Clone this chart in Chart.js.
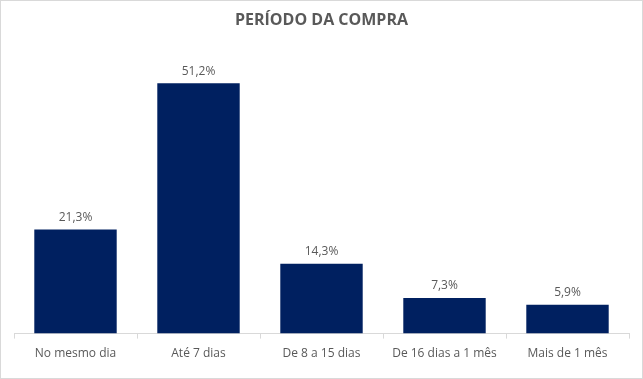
<!DOCTYPE html>
<html><head><meta charset="utf-8">
<script src="https://cdn.jsdelivr.net/npm/chart.js@4/dist/chart.umd.min.js"></script>
<style>
html,body{margin:0;padding:0;background:#fff;}
#wrap{position:relative;width:643px;height:379px;box-sizing:border-box;border:1px solid #d9d9d9;}
canvas{display:block;}
</style></head><body>
<div id="wrap"><canvas id="c" width="641" height="377"></canvas></div>
<script>
const categories = ["No mesmo dia", "Até 7 dias", "De 8 a 15 dias", "De 16 dias a 1 mês", "Mais de 1 mês"];
const values = [21.3, 51.2, 14.3, 7.3, 5.9];
const valueLabels = ["21,3%", "51,2%", "14,3%", "7,3%", "5,9%"];
const titleText = "PERÍODO DA COMPRA";

const labelPlugin = {
  id: 'barLabels',
  afterDatasetsDraw(chart) {
    const ctx = chart.ctx;
    const meta = chart.getDatasetMeta(0);
    ctx.save();
    ctx.font = '12px "Open Sans"';
    ctx.fillStyle = '#595959';
    ctx.textAlign = 'center';
    ctx.textBaseline = 'bottom';
    meta.data.forEach((bar, i) => {
      ctx.fillText(valueLabels[i], bar.x, bar.y - 6);
    });
    ctx.restore();
  }
};

new Chart(document.getElementById('c'), {
  type: 'bar',
  data: {
    labels: categories,
    datasets: [{
      data: values,
      backgroundColor: '#002060',
      categoryPercentage: 0.67,
      barPercentage: 1.0
    }]
  },
  options: {
    responsive: false,
    animation: false,
    layout: { padding: { left: 13, right: 13, top: 0, bottom: 9 } },
    plugins: {
      legend: { display: false },
      tooltip: { enabled: false },
      title: {
        display: true,
        text: titleText,
        color: '#595959',
        font: { family: 'Open Sans', size: 16, weight: 'bold' },
        padding: { top: 10, bottom: 10 }
      }
    },
    scales: {
      y: { display: false, min: 0, max: 60 },
      x: {
        offset: true,
        grid: { display: true, drawOnChartArea: false, offset: true, color: '#d9d9d9', tickLength: 5 },
        border: { display: true, color: '#d9d9d9' },
        ticks: { color: '#595959', font: { family: 'Open Sans', size: 12 }, padding: 8, maxRotation: 0, autoSkip: false }
      }
    }
  },
  plugins: [labelPlugin]
});
</script>
</body></html>
